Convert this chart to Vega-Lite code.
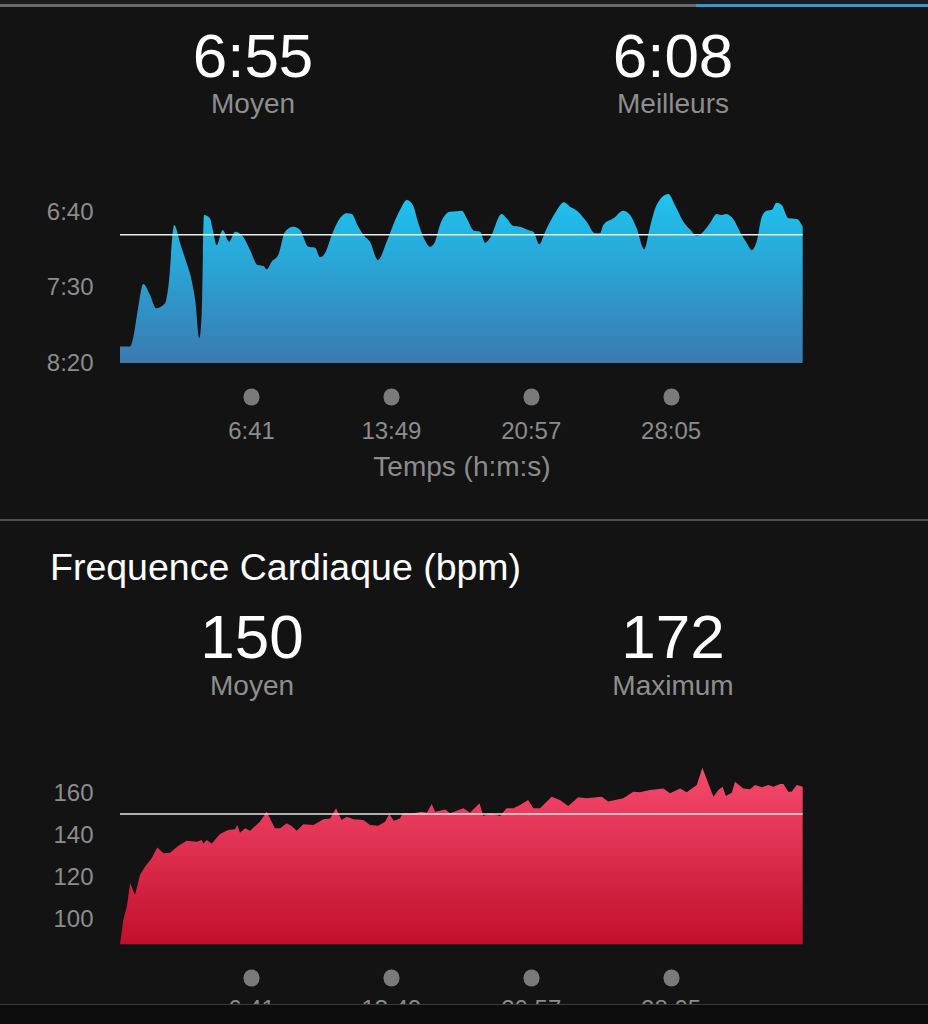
{
  "$schema": "https://vega.github.io/schema/vega-lite/v6.json",
  "background": "#131313",
  "padding": 0,
  "spacing": 0,
  "bounds": "flush",
  "config": {
    "view": {"stroke": null},
    "font": "Liberation Sans",
    "axis": {
      "domain": false,
      "grid": false,
      "labelColor": "#8c8c8c",
      "labelFont": "Liberation Sans",
      "labelFontSize": 24,
      "titleColor": "#8c8c8c",
      "titleFont": "Liberation Sans",
      "titleFontSize": 28,
      "titleFontWeight": "normal",
      "labelOverlap": false,
      "labelFlush": false
    }
  },
  "datasets": {
    "tabs": [
      {"tab": 1, "selected": false},
      {"tab": 2, "selected": false},
      {"tab": 3, "selected": false},
      {"tab": 4, "selected": true}
    ],
    "paceStats": [
      {"stat": "Moyen", "kind": "valeur", "text": "6:55"},
      {"stat": "Moyen", "kind": "libellé", "text": "Moyen"},
      {"stat": "Meilleurs", "kind": "valeur", "text": "6:08"},
      {"stat": "Meilleurs", "kind": "libellé", "text": "Meilleurs"}
    ],
    "hrStats": [
      {"stat": "Moyen", "kind": "valeur", "text": "150"},
      {"stat": "Moyen", "kind": "libellé", "text": "Moyen"},
      {"stat": "Maximum", "kind": "valeur", "text": "172"},
      {"stat": "Maximum", "kind": "libellé", "text": "Maximum"}
    ],
    "pace": [
      {"t": 0, "pace": 489}, {"t": 31, "pace": 489}, {"t": 41, "pace": 482.6}, {"t": 56, "pace": 462.7},
      {"t": 71, "pace": 447.7}, {"t": 92, "pace": 455}, {"t": 110, "pace": 463.8}, {"t": 138, "pace": 460.5},
      {"t": 148, "pace": 449.5}, {"t": 166, "pace": 408.6}, {"t": 184, "pace": 420.7}, {"t": 204, "pace": 434},
      {"t": 219, "pace": 445}, {"t": 230, "pace": 458.3}, {"t": 243, "pace": 483.6}, {"t": 250, "pace": 467.1},
      {"t": 257, "pace": 402}, {"t": 275, "pace": 404.2}, {"t": 284, "pace": 411.9}, {"t": 296, "pace": 421.9},
      {"t": 314, "pace": 411.9}, {"t": 334, "pace": 419.7}, {"t": 352, "pace": 413}, {"t": 377, "pace": 416.4},
      {"t": 398, "pace": 425.2}, {"t": 421, "pace": 435.1}, {"t": 439, "pace": 435.8}, {"t": 449, "pace": 438},
      {"t": 464, "pace": 432.9}, {"t": 484, "pace": 428.5}, {"t": 505, "pace": 413}, {"t": 530, "pace": 409.7},
      {"t": 551, "pace": 411.9}, {"t": 576, "pace": 423}, {"t": 597, "pace": 423.6}, {"t": 612, "pace": 430},
      {"t": 627, "pace": 427.4}, {"t": 648, "pace": 415.2}, {"t": 673, "pace": 404.2}, {"t": 694, "pace": 400.9},
      {"t": 709, "pace": 401.3}, {"t": 729, "pace": 409.7}, {"t": 750, "pace": 416.4}, {"t": 765, "pace": 419.7},
      {"t": 789, "pace": 431.8}, {"t": 816, "pace": 419.7}, {"t": 842, "pace": 405.3}, {"t": 862, "pace": 396.5},
      {"t": 877, "pace": 392.1}, {"t": 896, "pace": 395.4}, {"t": 913, "pace": 407.5}, {"t": 928, "pace": 416.4},
      {"t": 949, "pace": 423}, {"t": 964, "pace": 419.7}, {"t": 979, "pace": 408.6}, {"t": 1010, "pace": 399.8},
      {"t": 1030, "pace": 399.5}, {"t": 1046, "pace": 399.1}, {"t": 1061, "pace": 404.2}, {"t": 1083, "pace": 412.4},
      {"t": 1102, "pace": 413}, {"t": 1117, "pace": 420.3}, {"t": 1132, "pace": 417.4}, {"t": 1168, "pace": 401.3},
      {"t": 1183, "pace": 404.2}, {"t": 1204, "pace": 409.3}, {"t": 1224, "pace": 409.7}, {"t": 1255, "pace": 412.4},
      {"t": 1265, "pace": 413}, {"t": 1283, "pace": 421.4}, {"t": 1301, "pace": 413}, {"t": 1331, "pace": 400.9},
      {"t": 1359, "pace": 393.6}, {"t": 1377, "pace": 396.5}, {"t": 1398, "pace": 399.1}, {"t": 1428, "pace": 406.4},
      {"t": 1454, "pace": 414.1}, {"t": 1469, "pace": 414.1}, {"t": 1479, "pace": 408.6}, {"t": 1510, "pace": 404.2},
      {"t": 1540, "pace": 399.1}, {"t": 1561, "pace": 402}, {"t": 1581, "pace": 410.8}, {"t": 1604, "pace": 424.7},
      {"t": 1622, "pace": 409.7}, {"t": 1642, "pace": 395.4}, {"t": 1678, "pace": 388.1}, {"t": 1698, "pace": 395.4},
      {"t": 1724, "pace": 406.4}, {"t": 1744, "pace": 411.5}, {"t": 1765, "pace": 415.9}, {"t": 1785, "pace": 413},
      {"t": 1805, "pace": 407.5}, {"t": 1826, "pace": 401.3}, {"t": 1841, "pace": 402}, {"t": 1854, "pace": 401.3},
      {"t": 1877, "pace": 404.8}, {"t": 1897, "pace": 413}, {"t": 1918, "pace": 420.7}, {"t": 1933, "pace": 425.2},
      {"t": 1948, "pace": 419.7}, {"t": 1964, "pace": 403.1}, {"t": 1979, "pace": 399.1}, {"t": 1994, "pace": 398.7},
      {"t": 2009, "pace": 393.8}, {"t": 2025, "pace": 395.4}, {"t": 2045, "pace": 404.2}, {"t": 2071, "pace": 404.6},
      {"t": 2089, "pace": 409.7}
    ],
    "hr": [
      {"t": 0, "hr": 88}, {"t": 10, "hr": 99.5}, {"t": 21, "hr": 105.9}, {"t": 31, "hr": 117}, {"t": 46, "hr": 111.4},
      {"t": 61, "hr": 121}, {"t": 77, "hr": 125}, {"t": 97, "hr": 128.9}, {"t": 114, "hr": 134.1}, {"t": 133, "hr": 131.3},
      {"t": 153, "hr": 131.6}, {"t": 178, "hr": 134.8}, {"t": 204, "hr": 137.3}, {"t": 235, "hr": 136.8}, {"t": 250, "hr": 137.6},
      {"t": 255, "hr": 136}, {"t": 265, "hr": 137.6}, {"t": 281, "hr": 136}, {"t": 306, "hr": 140.5}, {"t": 331, "hr": 142.4},
      {"t": 352, "hr": 142.7}, {"t": 359, "hr": 144.8}, {"t": 367, "hr": 141.1}, {"t": 383, "hr": 143.2}, {"t": 398, "hr": 142},
      {"t": 428, "hr": 146.3}, {"t": 449, "hr": 151.1}, {"t": 474, "hr": 143.2}, {"t": 490, "hr": 143.2}, {"t": 510, "hr": 145.6},
      {"t": 525, "hr": 144.3}, {"t": 541, "hr": 142}, {"t": 561, "hr": 145.1}, {"t": 592, "hr": 144.8}, {"t": 622, "hr": 147.5},
      {"t": 643, "hr": 147.9}, {"t": 661, "hr": 152.7}, {"t": 678, "hr": 147.1}, {"t": 694, "hr": 148.7}, {"t": 714, "hr": 147.5},
      {"t": 745, "hr": 147.1}, {"t": 765, "hr": 144.8}, {"t": 790, "hr": 144.4}, {"t": 811, "hr": 146.3}, {"t": 824, "hr": 150},
      {"t": 838, "hr": 146.8}, {"t": 857, "hr": 147.9}, {"t": 865, "hr": 150.3}, {"t": 898, "hr": 150.3}, {"t": 923, "hr": 151.1},
      {"t": 939, "hr": 150.6}, {"t": 954, "hr": 154.8}, {"t": 964, "hr": 151.1}, {"t": 995, "hr": 152.2}, {"t": 1010, "hr": 150.3},
      {"t": 1051, "hr": 152.7}, {"t": 1071, "hr": 150.6}, {"t": 1100, "hr": 155.1}, {"t": 1112, "hr": 149}, {"t": 1132, "hr": 150.3},
      {"t": 1163, "hr": 149}, {"t": 1183, "hr": 152.7}, {"t": 1204, "hr": 152.7}, {"t": 1224, "hr": 154.3}, {"t": 1249, "hr": 156.7},
      {"t": 1265, "hr": 152.7}, {"t": 1285, "hr": 152.7}, {"t": 1321, "hr": 158.2}, {"t": 1346, "hr": 156.7}, {"t": 1372, "hr": 153.8},
      {"t": 1402, "hr": 158}, {"t": 1428, "hr": 157.5}, {"t": 1459, "hr": 158}, {"t": 1474, "hr": 158.2}, {"t": 1494, "hr": 155.9},
      {"t": 1540, "hr": 157.5}, {"t": 1571, "hr": 160.6}, {"t": 1591, "hr": 160.3}, {"t": 1622, "hr": 161.4}, {"t": 1663, "hr": 162.2},
      {"t": 1683, "hr": 159.9}, {"t": 1714, "hr": 162.2}, {"t": 1734, "hr": 160.3}, {"t": 1765, "hr": 163.8}, {"t": 1782, "hr": 172},
      {"t": 1800, "hr": 164.6}, {"t": 1816, "hr": 158.2}, {"t": 1831, "hr": 161.4}, {"t": 1844, "hr": 163}, {"t": 1854, "hr": 158.6},
      {"t": 1872, "hr": 160.1}, {"t": 1882, "hr": 165.4}, {"t": 1907, "hr": 162.2}, {"t": 1928, "hr": 161.8}, {"t": 1943, "hr": 163.8},
      {"t": 1964, "hr": 162.7}, {"t": 1984, "hr": 163.8}, {"t": 1999, "hr": 163}, {"t": 2020, "hr": 164.3}, {"t": 2030, "hr": 164.3},
      {"t": 2045, "hr": 160.6}, {"t": 2055, "hr": 160.6}, {"t": 2071, "hr": 163.8}, {"t": 2089, "hr": 163}
    ]
  },
  "vconcat": [
    {
      "width": 928,
      "height": 4,
      "data": {"name": "tabs"},
      "mark": {"type": "rect", "color": "#1c1c1c"},
      "encoding": {
        "x": {"field": "tab", "type": "ordinal", "axis": null, "scale": {"paddingInner": 0, "paddingOuter": 0}}
      }
    },
    {
      "width": 928,
      "height": 3,
      "data": {"name": "tabs"},
      "mark": {"type": "rect"},
      "encoding": {
        "x": {"field": "tab", "type": "ordinal", "axis": null, "scale": {"paddingInner": 0, "paddingOuter": 0}},
        "color": {"condition": {"test": "datum.selected", "value": "#2f9ad6"}, "value": "#686868"}
      }
    },
    {
      "width": 928,
      "height": 512,
      "layer": [
        {
          "data": {"name": "pace"},
          "mark": {
            "type": "area",
            "interpolate": "monotone",
            "color": {
              "gradient": "linear", "x1": 0, "y1": 0, "x2": 0, "y2": 1,
              "stops": [{"offset": 0, "color": "#1ec4f0"}, {"offset": 1, "color": "#3a7ab1"}]
            }
          },
          "encoding": {
            "x": {
              "field": "t", "type": "quantitative",
              "scale": {"domain": [0, 2090], "range": [120, 803], "nice": false, "zero": false},
              "axis": {
                "orient": "bottom", "offset": -123, "values": [401, 829, 1257, 1685],
                "labelExpr": "floor(datum.value/60) + ':' + (datum.value%60 < 10 ? '0' : '') + (datum.value%60)",
                "ticks": true, "tickSize": 1, "tickWidth": 16, "tickCap": "round", "tickColor": "#7a7a7a",
                "labelPadding": 22, "title": "Temps (h:m:s)", "titlePadding": 10
              }
            },
            "y": {
              "field": "pace", "type": "quantitative",
              "scale": {"domain": [400, 500], "range": [205, 356], "nice": false, "zero": false},
              "axis": {
                "orient": "left", "offset": -100, "values": [400, 450, 500],
                "labelExpr": "floor(datum.value/60) + ':' + (datum.value%60 < 10 ? '0' : '') + (datum.value%60)",
                "ticks": false, "tickSize": 0, "labelPadding": 7, "title": null
              }
            },
            "y2": {"datum": 500}
          }
        },
        {
          "data": {"name": "pace"},
          "mark": {"type": "rule", "color": "#e6eef0", "strokeWidth": 1.5},
          "encoding": {
            "x": {"aggregate": "min", "field": "t", "type": "quantitative", "axis": null,
                  "scale": {"domain": [0, 2090], "range": [120, 803], "nice": false, "zero": false}},
            "x2": {"aggregate": "max", "field": "t"},
            "y": {"datum": 415, "type": "quantitative", "axis": null,
                  "scale": {"domain": [400, 500], "range": [205, 356], "nice": false, "zero": false}}
          }
        },
        {
          "data": {"name": "paceStats"},
          "mark": {"type": "text", "font": "Liberation Sans", "baseline": "alphabetic", "align": "center"},
          "encoding": {
            "x": {"field": "stat", "type": "nominal", "axis": null, "scale": {"type": "point", "domain": ["Moyen", "Meilleurs"], "range": [253, 673], "padding": 0}},
            "y": {"field": "kind", "type": "nominal", "axis": null, "scale": {"type": "point", "domain": ["valeur", "libellé"], "range": [70, 106], "padding": 0}},
            "text": {"field": "text"},
            "size": {"field": "kind", "type": "ordinal", "legend": null, "scale": {"domain": ["valeur", "libellé"], "range": [62, 28]}},
            "color": {"field": "kind", "type": "nominal", "legend": null, "scale": {"domain": ["valeur", "libellé"], "range": ["#ffffff", "#8e8e8e"]}}
          }
        }
      ],
      "resolve": {"scale": {"x": "independent", "y": "independent"}}
    },
    {
      "width": 928,
      "height": 2,
      "data": {"name": "tabs"},
      "mark": {"type": "rect", "color": "#4e4e4e"},
      "encoding": {
        "x": {"field": "tab", "type": "ordinal", "axis": null, "scale": {"paddingInner": 0, "paddingOuter": 0}}
      }
    },
    {
      "width": 928,
      "height": 483,
      "title": {
        "text": "Frequence Cardiaque (bpm)", "anchor": "start", "frame": "group", "orient": "top",
        "offset": -96, "dx": 50, "baseline": "alphabetic", "fontSize": 37.5, "fontWeight": "normal",
        "color": "#ffffff", "font": "Liberation Sans"
      },
      "layer": [
        {
          "data": {"name": "hr"},
          "mark": {
            "type": "area",
            "interpolate": "linear",
            "color": {
              "gradient": "linear", "x1": 0, "y1": 0, "x2": 0, "y2": 1,
              "stops": [{"offset": 0, "color": "#f64b6e"}, {"offset": 1, "color": "#c20f2c"}]
            }
          },
          "encoding": {
            "x": {
              "field": "t", "type": "quantitative",
              "scale": {"domain": [0, 2090], "range": [120, 803], "nice": false, "zero": false},
              "axis": {
                "orient": "bottom", "offset": -27, "values": [401, 829, 1257, 1685],
                "labelExpr": "floor(datum.value/60) + ':' + (datum.value%60 < 10 ? '0' : '') + (datum.value%60)",
                "ticks": true, "tickSize": 1, "tickWidth": 16, "tickCap": "round", "tickColor": "#7a7a7a",
                "labelPadding": 19, "title": null
              }
            },
            "y": {
              "field": "hr", "type": "quantitative",
              "scale": {"domain": [100, 160], "range": [398, 272], "nice": false, "zero": false},
              "axis": {
                "orient": "left", "offset": -100, "values": [100, 120, 140, 160],
                "ticks": false, "tickSize": 0, "labelPadding": 7, "title": null
              }
            },
            "y2": {"datum": 88}
          }
        },
        {
          "data": {"name": "hr"},
          "mark": {"type": "rule", "color": "#e6e6e6", "strokeWidth": 1.5},
          "encoding": {
            "x": {"aggregate": "min", "field": "t", "type": "quantitative", "axis": null,
                  "scale": {"domain": [0, 2090], "range": [120, 803], "nice": false, "zero": false}},
            "x2": {"aggregate": "max", "field": "t"},
            "y": {"datum": 150, "type": "quantitative", "axis": null,
                  "scale": {"domain": [100, 160], "range": [398, 272], "nice": false, "zero": false}}
          }
        },
        {
          "data": {"name": "hrStats"},
          "mark": {"type": "text", "font": "Liberation Sans", "baseline": "alphabetic", "align": "center"},
          "encoding": {
            "x": {"field": "stat", "type": "nominal", "axis": null, "scale": {"type": "point", "domain": ["Moyen", "Maximum"], "range": [252, 673], "padding": 0}},
            "y": {"field": "kind", "type": "nominal", "axis": null, "scale": {"type": "point", "domain": ["valeur", "libellé"], "range": [137, 174], "padding": 0}},
            "text": {"field": "text"},
            "size": {"field": "kind", "type": "ordinal", "legend": null, "scale": {"domain": ["valeur", "libellé"], "range": [62, 28]}},
            "color": {"field": "kind", "type": "nominal", "legend": null, "scale": {"domain": ["valeur", "libellé"], "range": ["#ffffff", "#8e8e8e"]}}
          }
        }
      ],
      "resolve": {"scale": {"x": "independent", "y": "independent"}}
    },
    {
      "width": 928,
      "height": 1,
      "data": {"name": "tabs"},
      "mark": {"type": "rect", "color": "#3a3a3a"},
      "encoding": {
        "x": {"field": "tab", "type": "ordinal", "axis": null, "scale": {"paddingInner": 0, "paddingOuter": 0}}
      }
    },
    {
      "width": 928,
      "height": 19,
      "data": {"name": "tabs"},
      "mark": {"type": "rect", "color": "#0d0d0d"},
      "encoding": {
        "x": {"field": "tab", "type": "ordinal", "axis": null, "scale": {"paddingInner": 0, "paddingOuter": 0}}
      }
    }
  ]
}
